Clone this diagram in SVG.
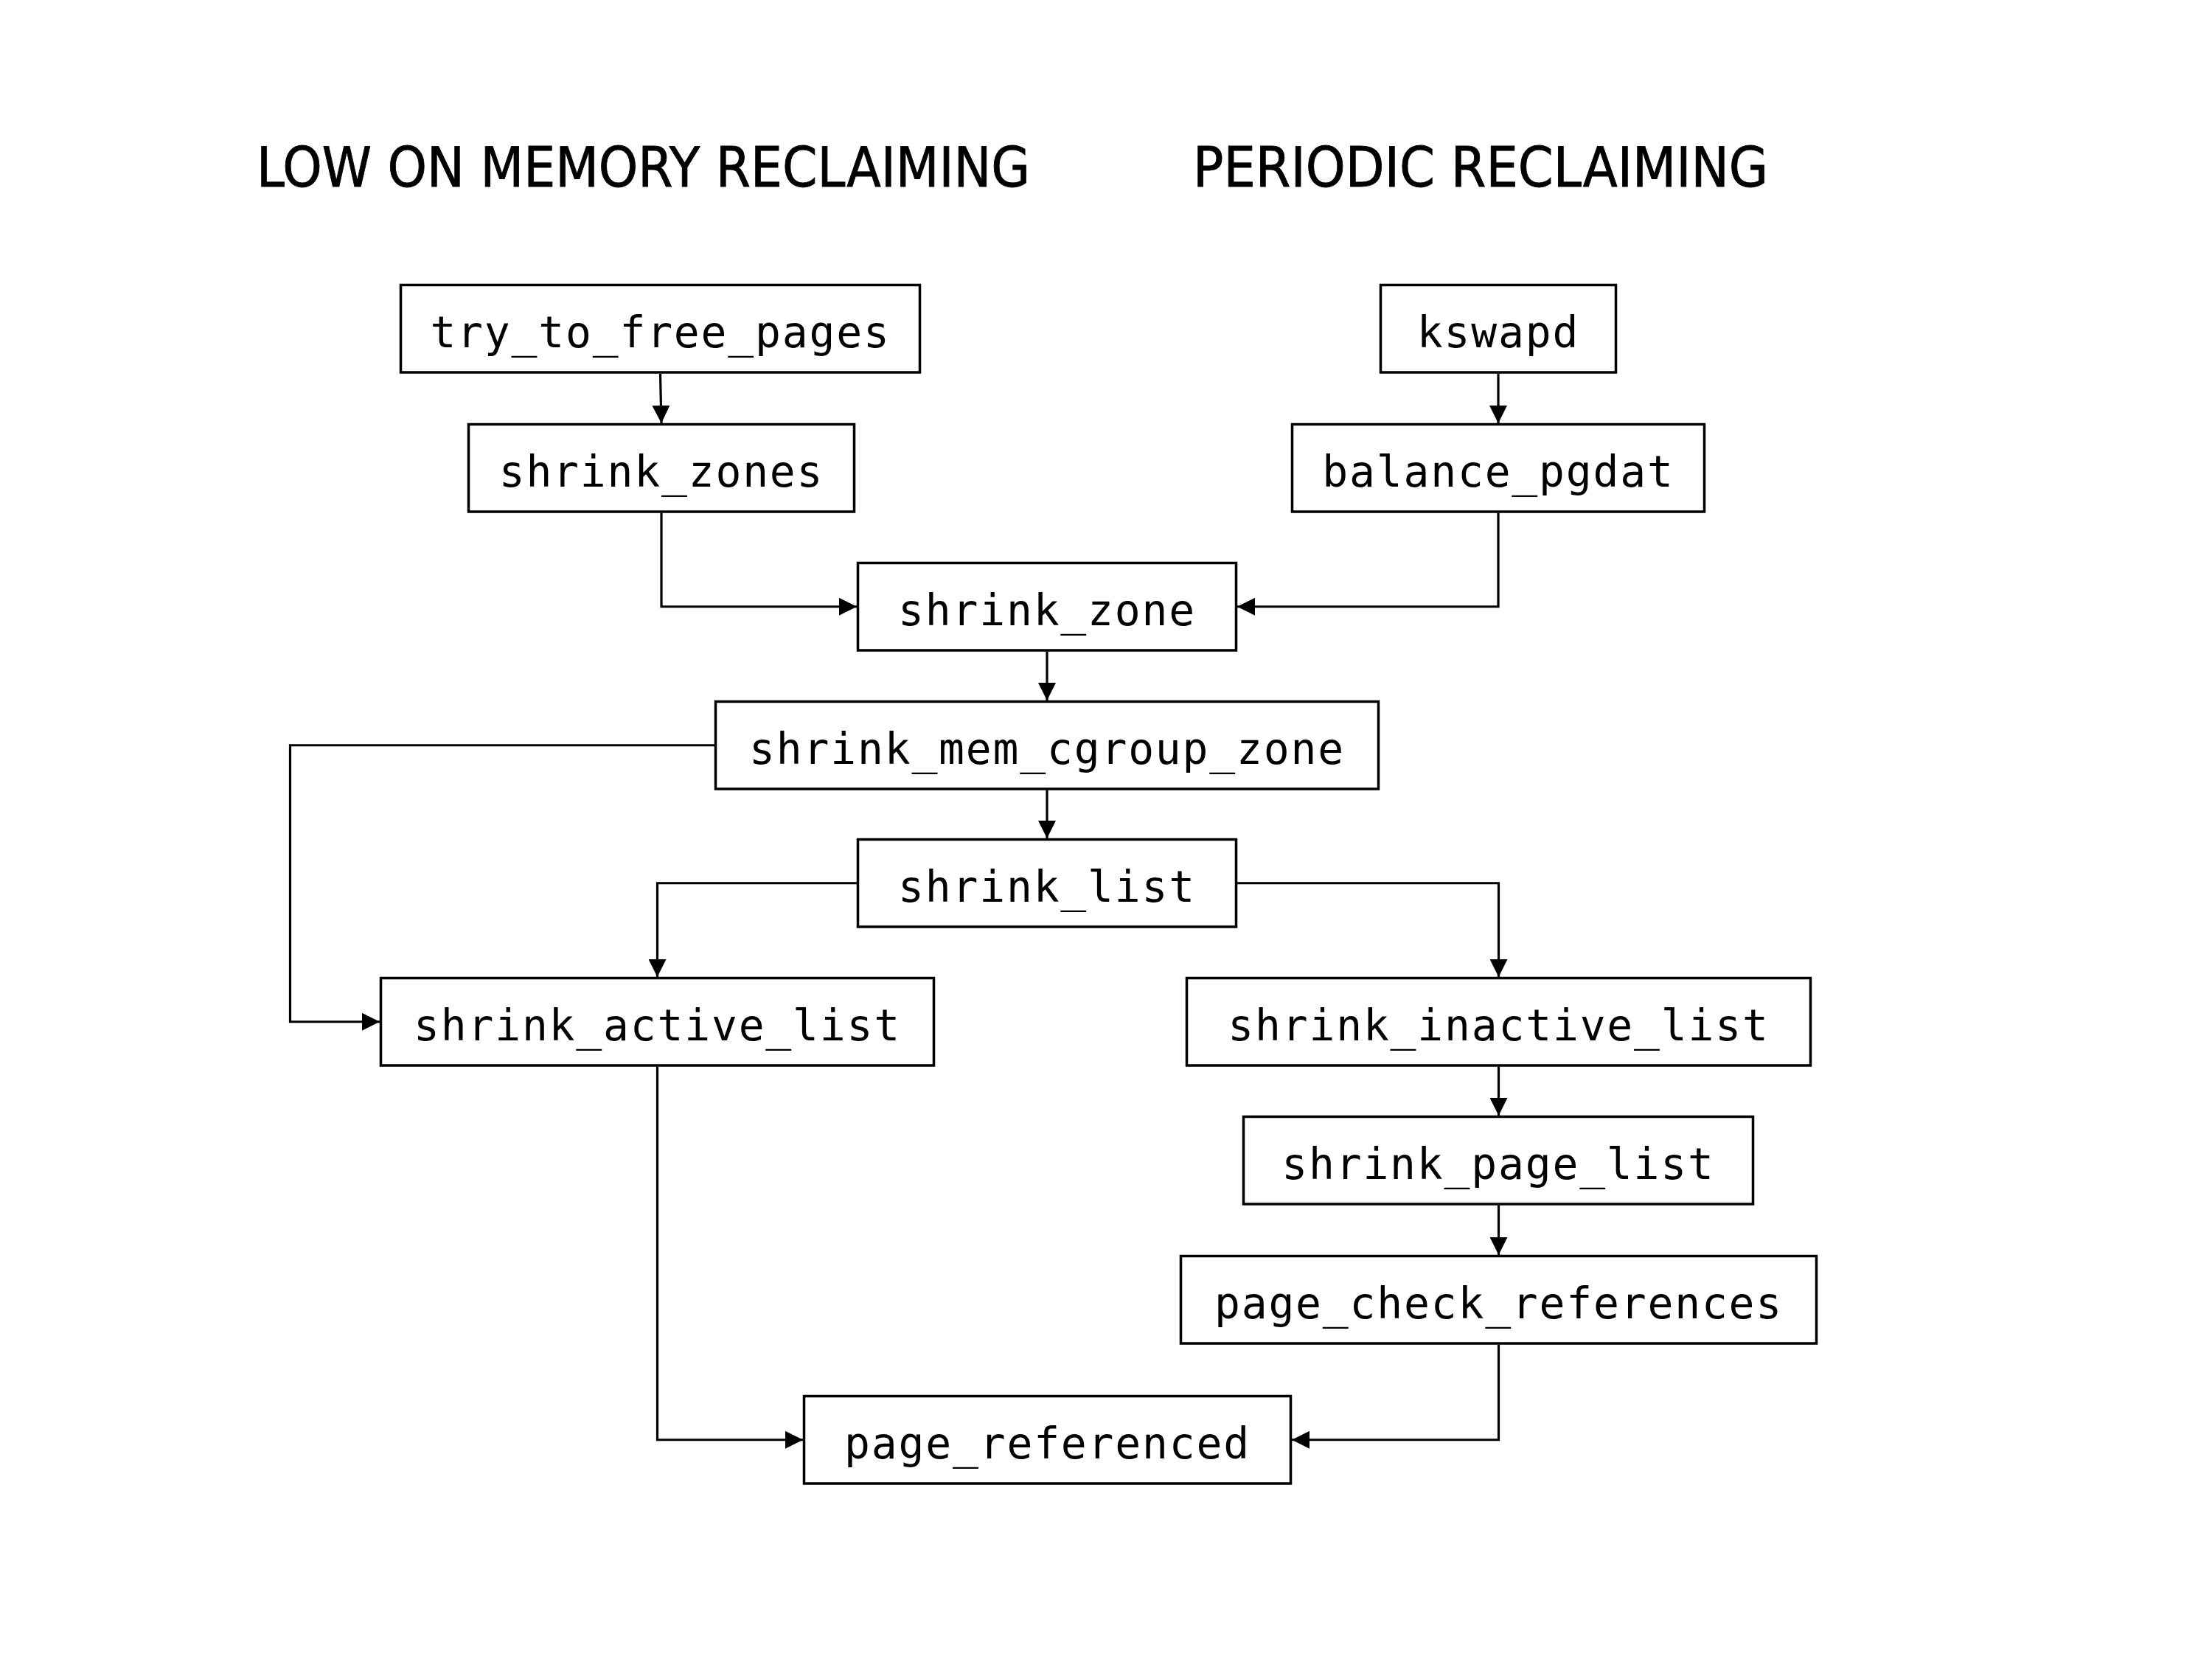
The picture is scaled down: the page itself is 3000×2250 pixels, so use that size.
<svg xmlns="http://www.w3.org/2000/svg" width="3000" height="2250" viewBox="0 0 3000 2250">
<defs>
<style>
.box{fill:#fff;stroke:#000;stroke-width:3.5}
.lbl{font-family:"DejaVu Sans Mono","Liberation Mono",monospace;font-size:58px;letter-spacing:1.8px;fill:#000;text-anchor:middle}
.title{font-family:"DejaVu Sans Condensed","DejaVu Sans","Liberation Sans",sans-serif;font-stretch:condensed;font-size:74px;fill:#000;stroke:#000;stroke-width:0.8}
.edge{fill:none;stroke:#000;stroke-width:3.2;marker-end:url(#ah)}
</style>
<marker id="ah" markerUnits="userSpaceOnUse" markerWidth="24" markerHeight="24" refX="24" refY="12" orient="auto" viewBox="0 0 24 24">
<path d="M0,0 L24,12 L0,24 z" fill="#000"/>
</marker>
</defs>
<rect width="3000" height="2250" fill="#fff"/>
<text class="title" x="348" y="253" textLength="1049" lengthAdjust="spacingAndGlyphs">LOW ON MEMORY RECLAIMING</text>
<text class="title" x="1618" y="253" textLength="780" lengthAdjust="spacingAndGlyphs">PERIODIC RECLAIMING</text>
<g id="connectors">
<path class="edge" d="M895.5,507 L897,574"/>
<path class="edge" d="M2032,507 L2032,574"/>
<path class="edge" d="M897,695.5 V822.75 H1162"/>
<path class="edge" d="M2032,695.5 V822.75 H1678"/>
<path class="edge" d="M1420,883.5 V950"/>
<path class="edge" d="M969,1010.75 H393.5 V1385.75 H515"/>
<path class="edge" d="M1420,1071.5 V1137"/>
<path class="edge" d="M1162,1197.75 H891.5 V1325"/>
<path class="edge" d="M1678,1197.75 H2032.5 V1325"/>
<path class="edge" d="M2032.5,1446.5 V1513"/>
<path class="edge" d="M2032.5,1634.5 V1702"/>
<path class="edge" d="M891.5,1446.5 V1952.75 H1089"/>
<path class="edge" d="M2032.5,1823.5 V1952.75 H1752"/>
</g>
<g id="try_to_free_pages"><rect class="box" x="543.5" y="386.5" width="704" height="118.5"/><text class="lbl" x="895.5" y="471">try_to_free_pages</text></g>
<g id="shrink_zones"><rect class="box" x="635.5" y="575.5" width="523" height="118.5"/><text class="lbl" x="897" y="660">shrink_zones</text></g>
<g id="kswapd"><rect class="box" x="1872.5" y="386.5" width="319" height="118.5"/><text class="lbl" x="2032" y="471">kswapd</text></g>
<g id="balance_pgdat"><rect class="box" x="1752.5" y="575.5" width="559" height="118.5"/><text class="lbl" x="2032" y="660">balance_pgdat</text></g>
<g id="shrink_zone"><rect class="box" x="1163.5" y="763.5" width="513" height="118.5"/><text class="lbl" x="1420" y="848">shrink_zone</text></g>
<g id="shrink_mem_cgroup_zone"><rect class="box" x="970.5" y="951.5" width="899" height="118.5"/><text class="lbl" x="1420" y="1036">shrink_mem_cgroup_zone</text></g>
<g id="shrink_list"><rect class="box" x="1163.5" y="1138.5" width="513" height="118.5"/><text class="lbl" x="1420" y="1223">shrink_list</text></g>
<g id="shrink_active_list"><rect class="box" x="516.5" y="1326.5" width="750" height="118.5"/><text class="lbl" x="891.5" y="1411">shrink_active_list</text></g>
<g id="shrink_inactive_list"><rect class="box" x="1609.5" y="1326.5" width="846" height="118.5"/><text class="lbl" x="2032.5" y="1411">shrink_inactive_list</text></g>
<g id="shrink_page_list"><rect class="box" x="1686.5" y="1514.5" width="691" height="118.5"/><text class="lbl" x="2032" y="1599">shrink_page_list</text></g>
<g id="page_check_references"><rect class="box" x="1601.5" y="1703.5" width="862" height="118.5"/><text class="lbl" x="2032.5" y="1788">page_check_references</text></g>
<g id="page_referenced"><rect class="box" x="1090.5" y="1893.5" width="660" height="118.5"/><text class="lbl" x="1420.5" y="1978">page_referenced</text></g>
</svg>
